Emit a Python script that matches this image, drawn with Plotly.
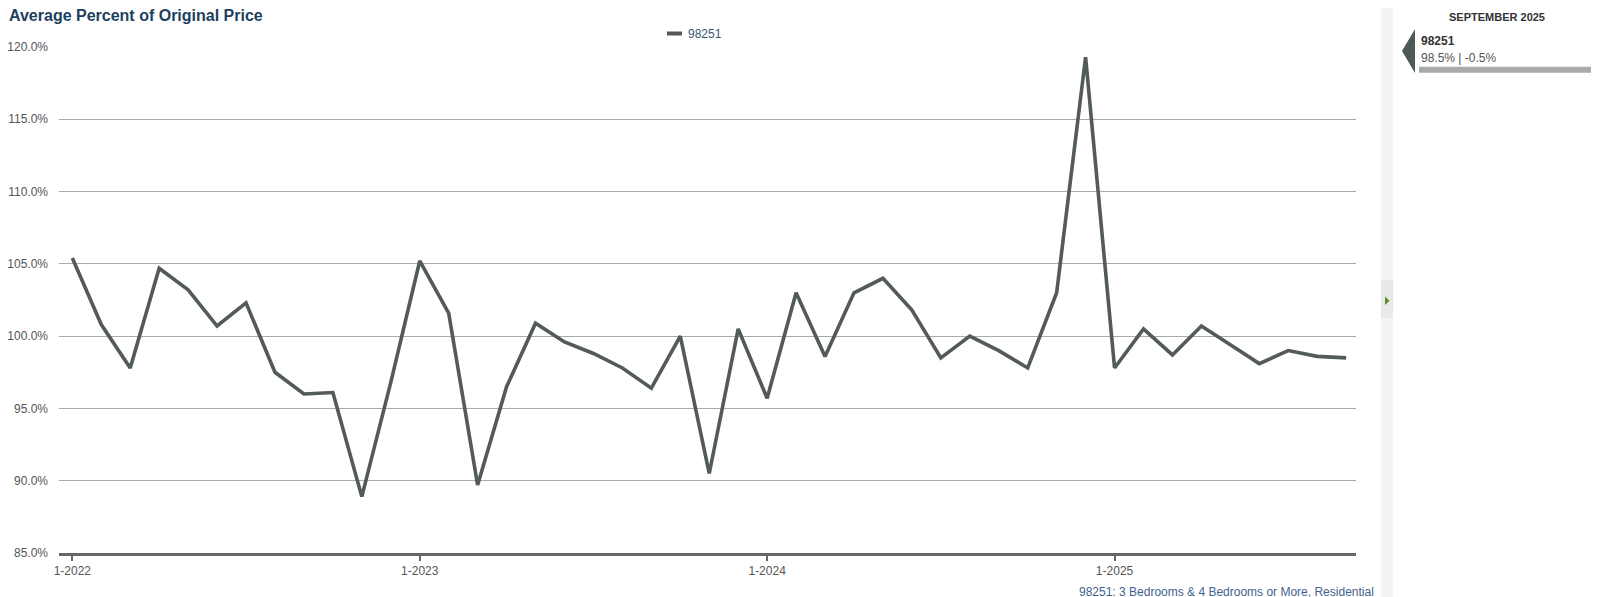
import plotly.graph_objects as go

# ---- data ----
months = [f"{m}-{y}" for y in (2022, 2023, 2024, 2025) for m in range(1, 13)][:45]
values = [
    105.4, 100.8, 97.8, 104.7, 103.2, 100.7, 102.3, 97.5, 96.0, 96.1, 88.9, 96.8,   # 2022
    105.2, 101.6, 89.7, 96.5, 100.9, 99.6, 98.8, 97.8, 96.4, 100.0, 90.5, 100.5,    # 2023
    95.7, 103.0, 98.6, 103.0, 104.0, 101.8, 98.5, 100.0, 99.0, 97.8, 103.0, 119.3,  # 2024
    97.8, 100.5, 98.7, 100.7, 99.4, 98.1, 99.0, 98.6, 98.5,                         # 2025
]
series_name = "98251"
tick_labels = ["1-2022", "1-2023", "1-2024", "1-2025"]
y_ticks = [85, 90, 95, 100, 105, 110, 115, 120]
panel_month = "SEPTEMBER 2025"
panel_value = "98.5% | -0.5%"
footnote = "98251: 3 Bedrooms & 4 Bedrooms or More, Residential"
title = "Average Percent of Original Price"

# page body adds an 8px margin; layout is designed in page pixels and shifted
OFF = 8
W, H = 1606, 597
L, R, T, B = 59 - OFF, 1606 - (1356 - OFF), 47 - OFF, 597 - (553 - OFF)
PW, PH = W - L - R, H - T - B


def px(x):
    return (x - OFF - L) / PW


def py(y):
    return (H - B - (y - OFF)) / PH


FONT = "Liberation Sans, Arial, Helvetica, sans-serif"
LINE_C = "#525b58"

fig = go.Figure()
fig.add_trace(go.Scatter(
    x=months, y=values, mode="lines", name=series_name,
    line=dict(color=LINE_C, width=3.6), showlegend=False,
))

shapes = []
annotations = []

# legend (custom)
shapes.append(dict(type="line", xref="paper", yref="paper",
                   x0=px(667), x1=px(682), y0=py(33.5), y1=py(33.5),
                   line=dict(color=LINE_C, width=4)))
annotations.append(dict(xref="paper", yref="paper", x=px(686), y=py(33.5),
                        text=series_name, showarrow=False, xanchor="left", yanchor="middle",
                        font=dict(family=FONT, size=12, color="#3a5476")))

# title
annotations.append(dict(xref="paper", yref="paper", x=px(8), y=py(16), borderpad=0,
                        text="<b>" + title + "</b>", showarrow=False,
                        xanchor="left", yanchor="middle",
                        font=dict(family=FONT, size=16, color="#1d3f60")))

# footnote
annotations.append(dict(xref="paper", yref="paper", x=px(1376), y=py(591.5),
                        text=footnote, showarrow=False, xanchor="right", yanchor="middle",
                        font=dict(family=FONT, size=12, color="#3f6390")))

# right-side strip
shapes.append(dict(type="rect", xref="paper", yref="paper",
                   x0=px(1381), x1=px(1393), y0=py(600), y1=py(5),
                   fillcolor="#f3f3f3", line=dict(width=0), layer="below"))
shapes.append(dict(type="rect", xref="paper", yref="paper",
                   x0=px(1381), x1=px(1393), y0=py(318), y1=py(280),
                   fillcolor="#e9e9e9", line=dict(width=0), layer="below"))
shapes.append(dict(type="path", xref="paper", yref="paper",
                   path=f"M {px(1385)},{py(296.5)} L {px(1385)},{py(305)} L {px(1389.5)},{py(300.8)} Z",
                   fillcolor="#5b8c2c", line=dict(width=0)))

# right panel
annotations.append(dict(xref="paper", yref="paper", x=px(1497), y=py(16.5),
                        text="<b>" + panel_month + "</b>", showarrow=False,
                        xanchor="center", yanchor="middle",
                        font=dict(family=FONT, size=11, color="#333333")))
shapes.append(dict(type="path", xref="paper", yref="paper",
                   path=f"M {px(1415)},{py(29)} L {px(1415)},{py(73)} L {px(1402)},{py(51)} Z",
                   fillcolor="#4d5a56", line=dict(width=0)))
annotations.append(dict(xref="paper", yref="paper", x=px(1418.5), y=py(41.5),
                        text="<b>" + series_name + "</b>", showarrow=False,
                        xanchor="left", yanchor="middle",
                        font=dict(family=FONT, size=12, color="#333333")))
annotations.append(dict(xref="paper", yref="paper", x=px(1418.5), y=py(58.5),
                        text=panel_value, showarrow=False,
                        xanchor="left", yanchor="middle",
                        font=dict(family=FONT, size=12, color="#555555")))
shapes.append(dict(type="rect", xref="paper", yref="paper",
                   x0=px(1419), x1=px(1591), y0=py(72.7), y1=py(66.7),
                   fillcolor="#aaaaaa", line=dict(width=0)))

fig.update_layout(
    width=W, height=H,
    margin=dict(l=L, r=R, t=T, b=B, pad=0, autoexpand=False),
    paper_bgcolor="white", plot_bgcolor="white",
    font=dict(family=FONT, size=12, color="#555555"),
    shapes=shapes, annotations=annotations,
    showlegend=False,
    xaxis=dict(
        type="category", categoryorder="array", categoryarray=months,
        range=[-0.46, 44.34], automargin=False,
        tickmode="array", tickvals=tick_labels, ticktext=tick_labels,
        showgrid=False, zeroline=False,
        showline=True, linecolor="#666666", linewidth=2.5,
        ticks="outside", ticklen=5, tickwidth=2, tickcolor="#666666",
        tickfont=dict(family=FONT, size=12, color="#555555"),
    ),
    yaxis=dict(
        range=[85, 120], tickmode="array", tickvals=y_ticks, automargin=False,
        ticktext=[f"{v:.1f}%" for v in y_ticks],
        showgrid=True, gridcolor="#aaaaaa", gridwidth=1,
        zeroline=False, showline=False, ticks="",
        ticklabelstandoff=10,
        tickfont=dict(family=FONT, size=12, color="#555555"),
    ),
)

fig.write_html("out.html")
